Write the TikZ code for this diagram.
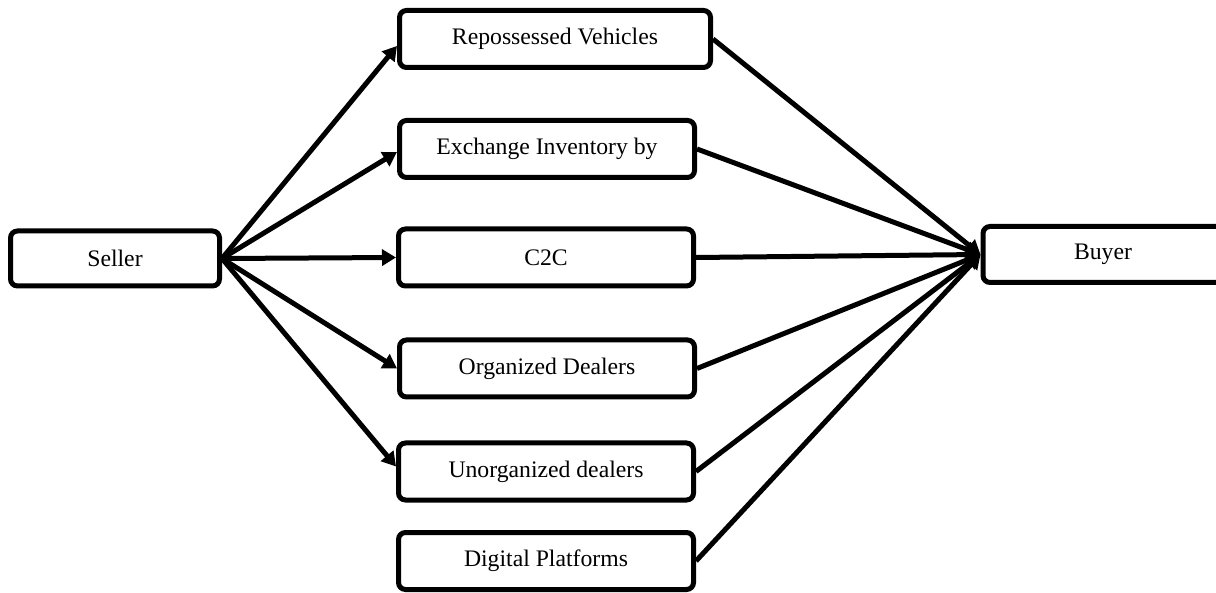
\documentclass[tikz,border=0pt]{standalone}
\usepackage{fontspec}
\setmainfont{Liberation Serif}
\usepackage{xcolor}
\colorlet{colBox}{white}
\colorlet{colBoxLine}{black}
\usepackage{tikz}
\usetikzlibrary{arrows.meta}

\begin{document}
\begin{tikzpicture}[x=1pt, y=-1pt,
		chanBox/.style={draw=colBoxLine, fill=colBox, line width=5pt, rounded corners=7pt, minimum width=295pt, minimum height=57pt, inner sep=0pt, font=\fontsize{23.7}{28}\selectfont},
		flowArrow/.style={draw=colBoxLine, line width=5pt, -{Triangle[length=14pt, width=16pt]}}]
				\useasboundingbox (0,0) rectangle (1216,593);
				\node[chanBox, minimum width=209pt, minimum height=55pt] (seller) at (115,258.5) {Seller};
				\node[chanBox, minimum width=240pt, minimum height=56pt] (buyer) at (1103,254.5) {Buyer};
				\node[chanBox, minimum width=311pt] (repo) at (555,39) {Repossessed Vehicles};
				\node[chanBox] (exch) at (547,149) {Exchange Inventory by};
				\node[chanBox] (ctoc) at (546,257.5) {C2C};
				\node[chanBox] (orgd) at (547,368.5) {Organized Dealers};
				\node[chanBox] (unorg) at (546,471.5) {Unorganized dealers};
				\node[chanBox] (digi) at (546,561) {Digital Platforms};
				\draw[flowArrow] (seller.east) -- ([yshift=-7pt]repo.west);
				\draw[flowArrow] (seller.east) -- ([yshift=-3pt]exch.west);
				\draw[flowArrow] (seller.east) -- (ctoc.west);
				\draw[flowArrow] (seller.east) -- (orgd.west);
				\draw[flowArrow] (seller.east) -- ([yshift=5pt]unorg.west);
				\foreach \src in {repo, exch, ctoc, orgd, unorg, digi}
					\draw[flowArrow] (\src.east) -- (buyer.west);
			\end{tikzpicture}
\end{document}
